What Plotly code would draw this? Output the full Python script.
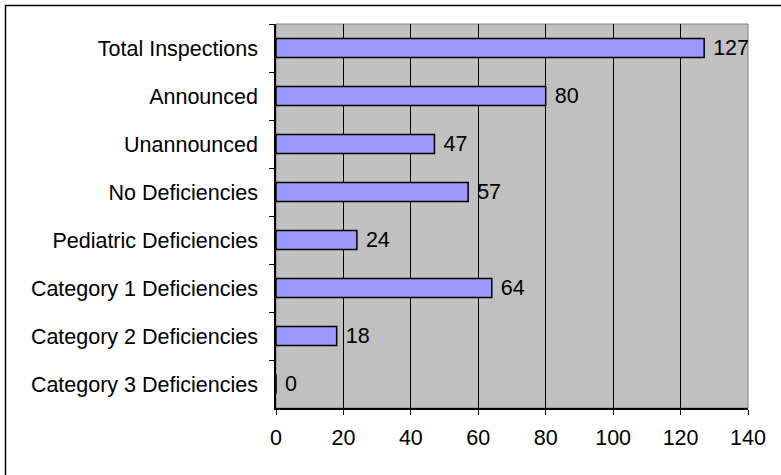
import plotly.graph_objects as go

categories = ["Total Inspections", "Announced", "Unannounced", "No Deficiencies",
              "Pediatric Deficiencies", "Category 1 Deficiencies",
              "Category 2 Deficiencies", "Category 3 Deficiencies"]
values = [127, 80, 47, 57, 24, 64, 18, 0]
x_ticks = [0, 20, 40, 60, 80, 100, 120, 140]

W, H = 781, 475
L, R, T, B = 276, 33, 24, 67
pw, ph = W - L - R, H - T - B
FS = 21.5

fig = go.Figure()
fig.add_trace(go.Bar(
    x=values, y=categories, orientation="h",
    marker=dict(color="#9999FF", line=dict(color="black", width=1.5)),
    text=[str(v) for v in values], texttemplate="\u00a0%{text}",
    textposition="outside", constraintext="none",
    textfont=dict(size=FS, color="black", family="Liberation Sans, Arial"),
    cliponaxis=False, width=0.4, hoverinfo="skip",
))

fig.add_shape(type="rect", xref="paper", yref="paper", x0=0, x1=1, y0=0, y1=1,
              line=dict(color="#808080", width=1), layer="below")
# outer frame
fig.add_shape(type="rect", xref="paper", yref="paper",
              x0=(5.5 - L) / pw, x1=(W + 10 - L) / pw,
              y0=-(B + 10) / ph, y1=(H - B - 5.5) / ph,
              line=dict(color="black", width=1.5))

fig.update_layout(
    width=W, height=H,
    margin=dict(l=L, r=R, t=T, b=B),
    paper_bgcolor="white", plot_bgcolor="#C0C0C0",
    font=dict(family="Liberation Sans, Arial", size=FS, color="black"),
    showlegend=False,
    xaxis=dict(range=[0, 140], tickvals=x_ticks, showgrid=True, gridcolor="black",
               gridwidth=1, showline=True, linecolor="black", linewidth=1.5,
               ticks="outside", ticklen=5, tickcolor="black", zeroline=False,
               ticklabelstandoff=4),
    yaxis=dict(autorange="reversed", showline=True, linecolor="black", linewidth=1.5,
               ticks="outside", ticklen=5, tickcolor="black", tickson="boundaries",
               showgrid=False, ticklabelstandoff=12),
)

fig.write_html("out.html", config={"displayModeBar": False},
               post_script="document.body.style.margin='0';")
